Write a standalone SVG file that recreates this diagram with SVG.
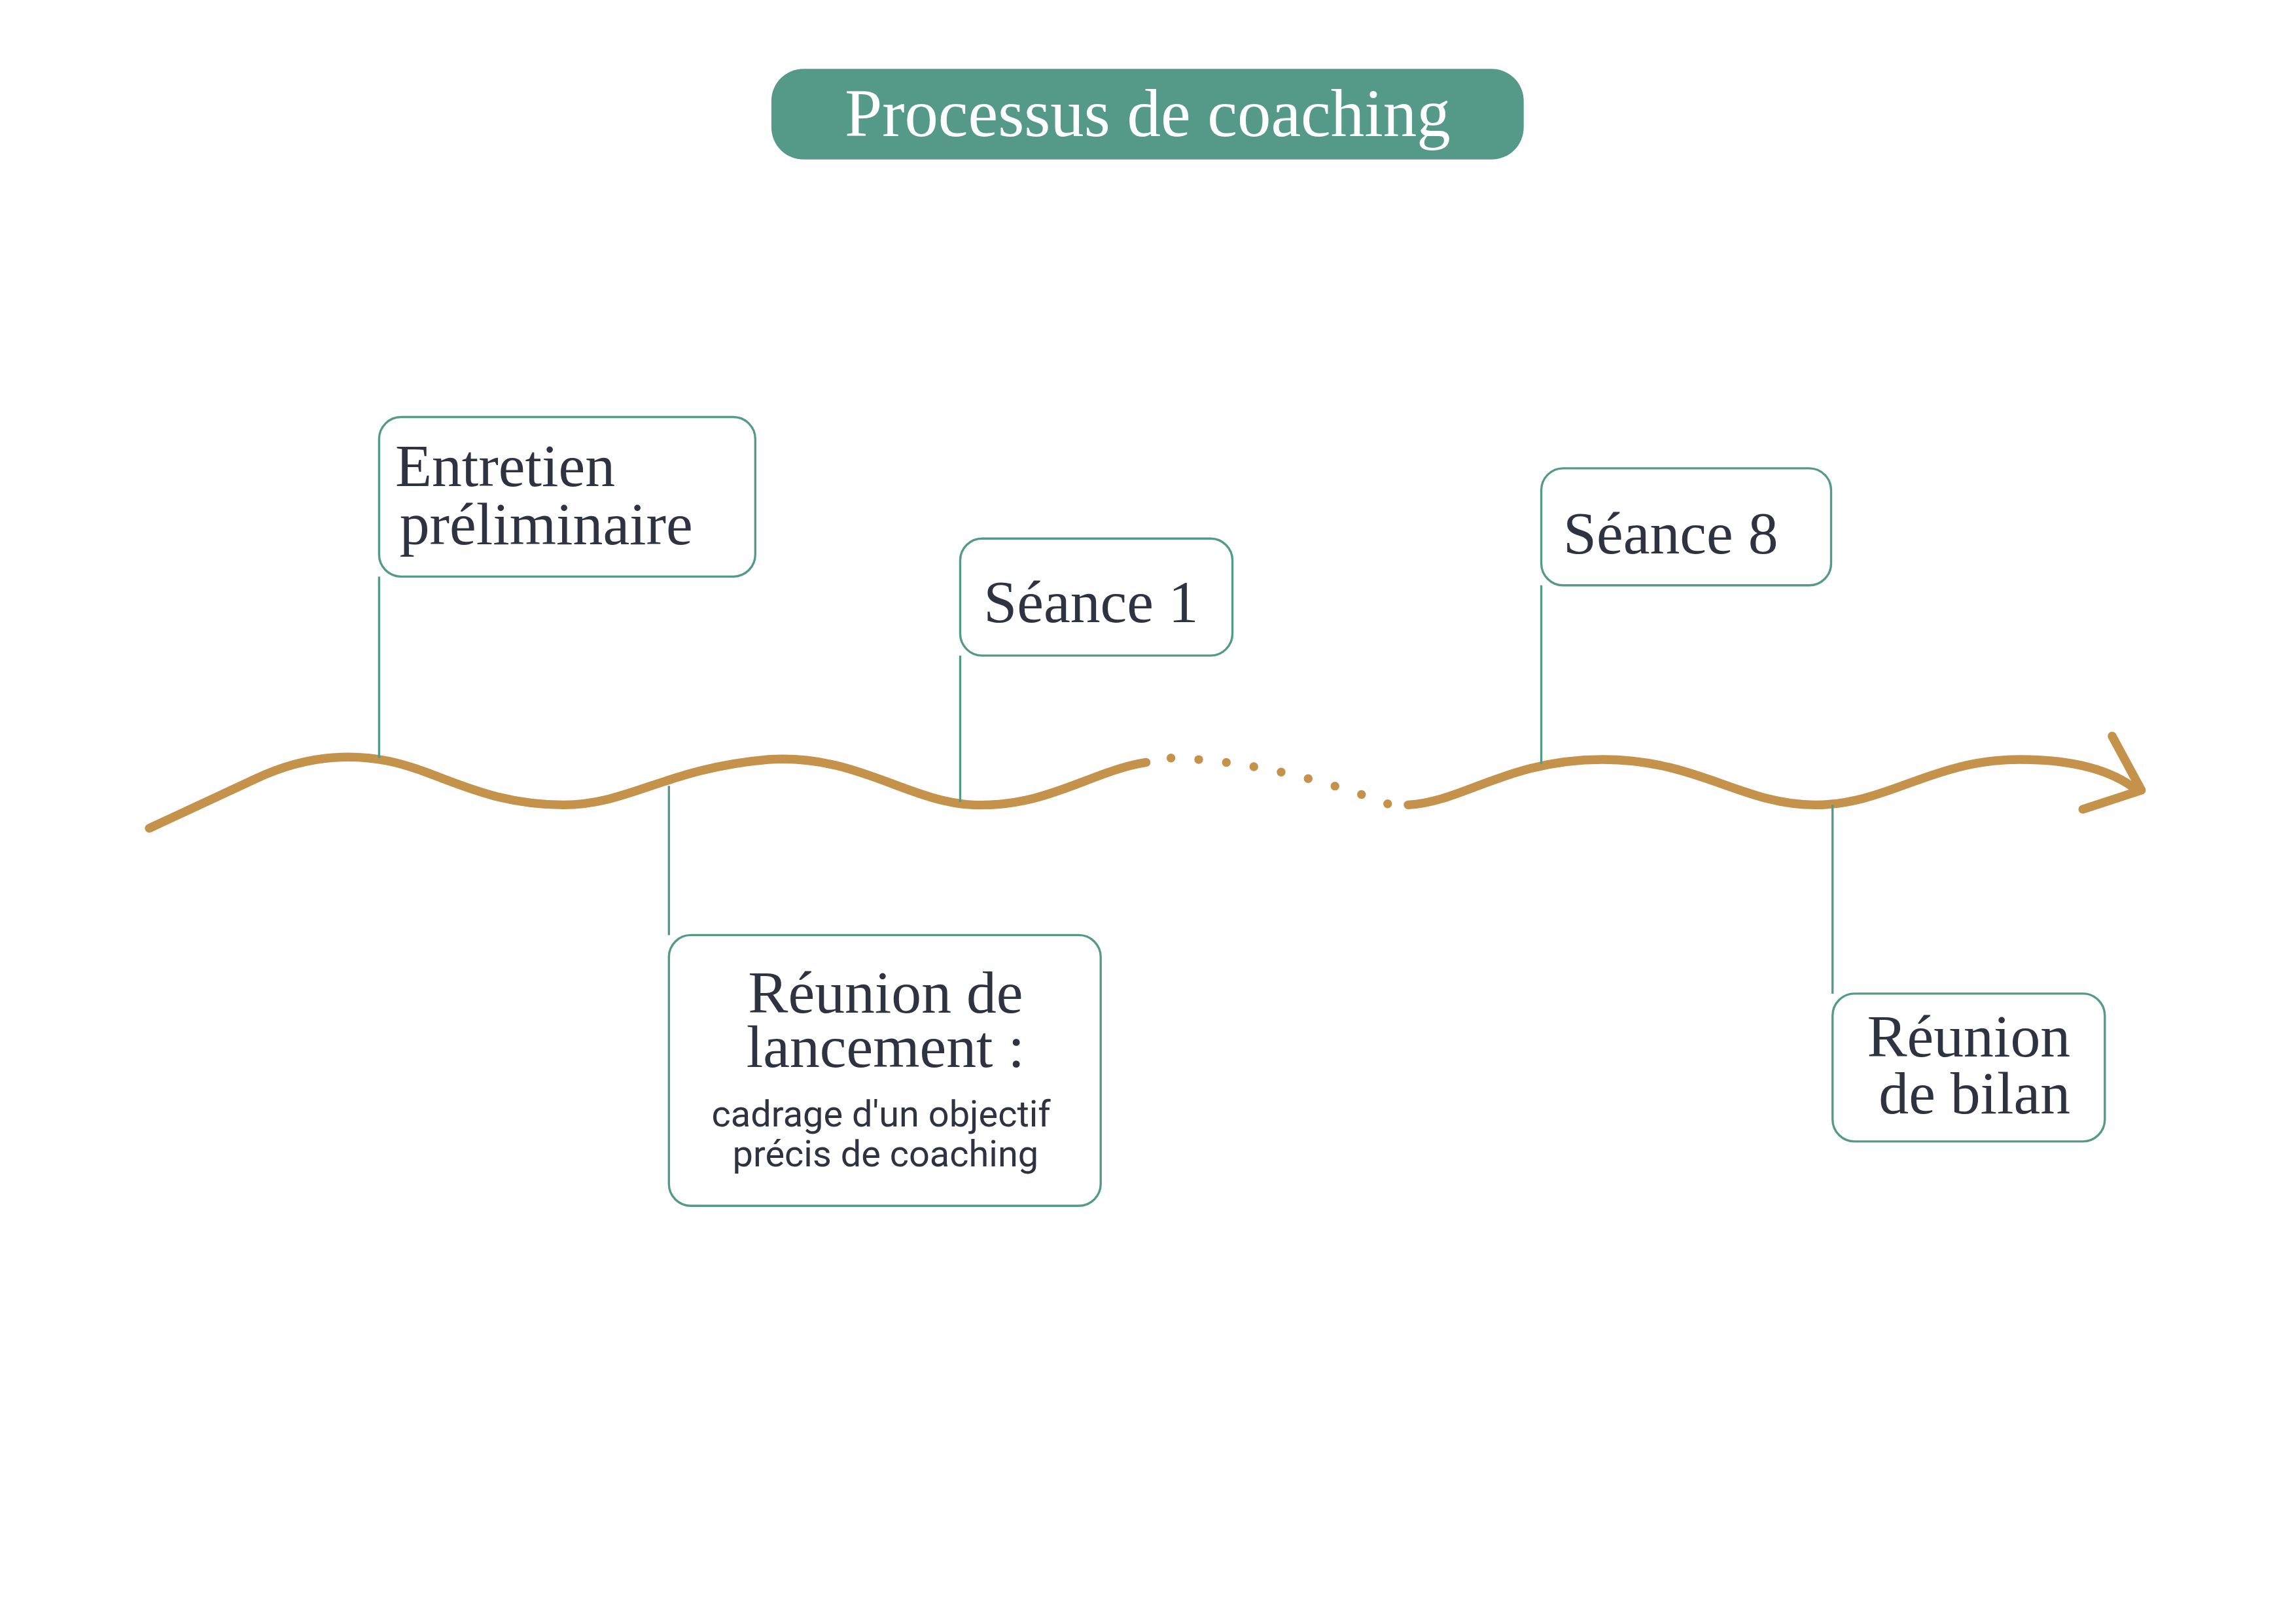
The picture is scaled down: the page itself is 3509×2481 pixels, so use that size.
<svg xmlns="http://www.w3.org/2000/svg" width="3509" height="2481" viewBox="0 0 3509 2481">
<style>
.box{fill:#fff;stroke:#559a88;stroke-width:1.5}
.lead{stroke:#559a88;stroke-width:1.5;fill:none}
.t{font-family:"Liberation Serif",serif;font-size:41px;fill:#2d3340}
.s{font-family:Roboto,"Liberation Sans",sans-serif;font-size:25px;fill:#2d3340}
.w{fill:none;stroke:#c4924a;stroke-width:6;stroke-linecap:round;stroke-linejoin:round}
</style>
<rect width="3509" height="2481" fill="#fff"/>
<g transform="scale(2.237)">
<g id="title"><rect x="527" y="47" width="514" height="62" rx="22" fill="#559a88"/><text x="784" y="93" text-anchor="middle" font-family="Liberation Serif,serif" font-size="46" fill="#fff">Processus de coaching</text></g>
<g id="connectors">
<path class="w" d="M102,566 L175,532 C205,518 235,514 265,520 C300,527 330,550 385,550 C430,550 455,525 525,519 C585,515 620,548 665,550 C715,552 745,527 783,521"/>
<path class="w" d="M800,518 Q870,520 950,550" stroke-dasharray="0 19"/>
<path class="w" d="M962,550 C1000,548 1030,519 1095,519 C1160,519 1190,550 1240,550 C1290,550 1320,519 1380,519 C1420,519 1445,528 1460,540"/>
<path class="w" d="M1443,503 L1463,540 L1423,553"/>
<path class="lead" d="M259,394V518 M656,448V548 M457,537V639 M1053,400V522 M1252,550V679"/>
</g>
<g id="n1"><rect class="box" x="259" y="285" width="257" height="109" rx="15"/><text class="t" x="270" y="332">Entretien</text><text class="t" x="273" y="372">préliminaire</text></g>
<g id="n2"><rect class="box" x="656" y="368" width="186" height="80" rx="15"/><text class="t" x="672" y="425">Séance 1</text></g>
<g id="n3"><rect class="box" x="457" y="639" width="295" height="185" rx="15"/><text class="t" x="605" y="692" text-anchor="middle">Réunion de</text><text class="t" x="605" y="729" text-anchor="middle">lancement :</text><text class="s" x="602" y="770" text-anchor="middle">cadrage d'un objectif</text><text class="s" x="605" y="797" text-anchor="middle">précis de coaching</text></g>
<g id="n4"><rect class="box" x="1053" y="320" width="198" height="80" rx="15"/><text class="t" x="1068" y="378">Séance 8</text></g>
<g id="n5"><rect class="box" x="1252" y="679" width="186" height="101" rx="15"/><text class="t" x="1345" y="722" text-anchor="middle">Réunion</text><text class="t" x="1349" y="761" text-anchor="middle">de bilan</text></g>
</g>
</svg>
